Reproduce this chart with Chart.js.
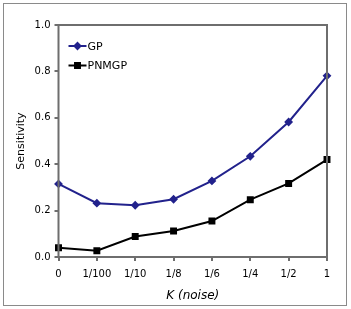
<!DOCTYPE html>
<html lang="en">
<head>
  <meta charset="UTF-8" />
  <title>Sensitivity vs K (noise)</title>
  <script src="https://cdn.jsdelivr.net/npm/chart.js"></script>
  <style>
    body {
      margin: 0;
      background: #fff;
    }
    #frame {
      position: absolute;
      left: 3px;
      top: 3px;
      width: 342px;
      height: 301px;
      border: 1.5px solid #8a8a8a;
    }
    #wrap {
      position: absolute;
      left: 0;
      top: 0;
      width: 351px;
      height: 309px;
    }
  </style>
</head>
<body>
  <div id="frame"></div>
  <div id="wrap"><canvas id="chart"></canvas></div>
  <script>
    const noiseLabels = ['0', '1/100', '1/10', '1/8', '1/6', '1/4', '1/2', '1'];
    const gpValues = [0.315, 0.232, 0.223, 0.249, 0.328, 0.434, 0.582, 0.781];
    const pnmgpValues = [0.040, 0.027, 0.088, 0.112, 0.155, 0.247, 0.317, 0.420];
    const yTicks = [0, 0.2, 0.4, 0.6, 0.8, 1.0];

    const axisColor = '#6e6e6e';
    const font = 'DejaVu Sans';

    // box around the plot area plus a small legend inside it
    const boxAndLegend = {
      id: 'boxAndLegend',
      afterDatasetsDraw(chart) {
        const ctx = chart.ctx;
        const a = chart.chartArea;
        ctx.save();
        ctx.strokeStyle = axisColor;
        ctx.lineWidth = 2;
        ctx.strokeRect(a.left, a.top, a.right - a.left, a.bottom - a.top);

        chart.data.datasets.forEach((ds, i) => {
          const y = a.top + 21 + i * 19.5;
          const x0 = a.left + 10;
          ctx.strokeStyle = ds.borderColor;
          ctx.fillStyle = ds.backgroundColor;
          ctx.lineWidth = 2;
          ctx.beginPath();
          ctx.moveTo(x0, y);
          ctx.lineTo(x0 + 18, y);
          ctx.stroke();
          Chart.helpers.drawPoint(ctx, {
            pointStyle: ds.pointStyle,
            radius: ds.pointRadius,
            borderWidth: 1
          }, x0 + 9, y);
          ctx.fillStyle = '#000';
          ctx.font = '11px "' + font + '"';
          ctx.textBaseline = 'middle';
          ctx.fillText(ds.label, x0 + 19, y + 1);
        });
        ctx.restore();
      }
    };

    new Chart(document.getElementById('chart'), {
      type: 'line',
      data: {
        labels: noiseLabels,
        datasets: [{
          label: 'GP',
          data: gpValues,
          borderColor: '#22228c',
          backgroundColor: '#22228c',
          borderWidth: 2,
          pointStyle: 'rectRot',
          pointRadius: 3,
          tension: 0
        }, {
          label: 'PNMGP',
          data: pnmgpValues,
          borderColor: '#000',
          backgroundColor: '#000',
          borderWidth: 2,
          pointStyle: 'rect',
          pointRadius: 3.5,
          tension: 0
        }]
      },
      plugins: [boxAndLegend],
      options: {
        responsive: true,
        maintainAspectRatio: false,
        animation: false,
        layout: {
          padding: { left: 15, right: 24, top: 25, bottom: 6 }
        },
        plugins: {
          legend: { display: false },
          tooltip: { enabled: false }
        },
        scales: {
          x: {
            type: 'category',
            offset: false,
            afterFit: s => { s.height = 46; },
            grid: {
              display: true,
              drawOnChartArea: false,
              drawTicks: true,
              tickLength: 4,
              color: axisColor,
              lineWidth: 2,
              offset: false
            },
            border: { display: false },
            ticks: {
              color: '#000',
              font: { family: font, size: 10 },
              padding: 7,
              maxRotation: 0,
              autoSkip: false
            },
            title: {
              display: true,
              text: 'K (noise)',
              color: '#000',
              font: { family: font, size: 12, style: 'italic' },
              padding: { top: 4, bottom: 0 }
            }
          },
          y: {
            min: 0,
            max: 1,
            afterFit: s => { s.width = 43.5; },
            afterBuildTicks: s => { s.ticks = yTicks.map(v => ({ value: v })); },
            grid: {
              display: true,
              drawOnChartArea: false,
              drawTicks: true,
              tickLength: 4,
              color: axisColor,
              lineWidth: 2
            },
            border: { display: false },
            ticks: {
              color: '#000',
              font: { family: font, size: 10 },
              padding: 4,
              callback: v => v.toFixed(1)
            },
            title: {
              display: true,
              text: 'Sensitivity',
              color: '#000',
              font: { family: font, size: 11 },
              padding: { top: 0, bottom: 2 }
            }
          }
        }
      }
    });
  </script>
</body>
</html>
